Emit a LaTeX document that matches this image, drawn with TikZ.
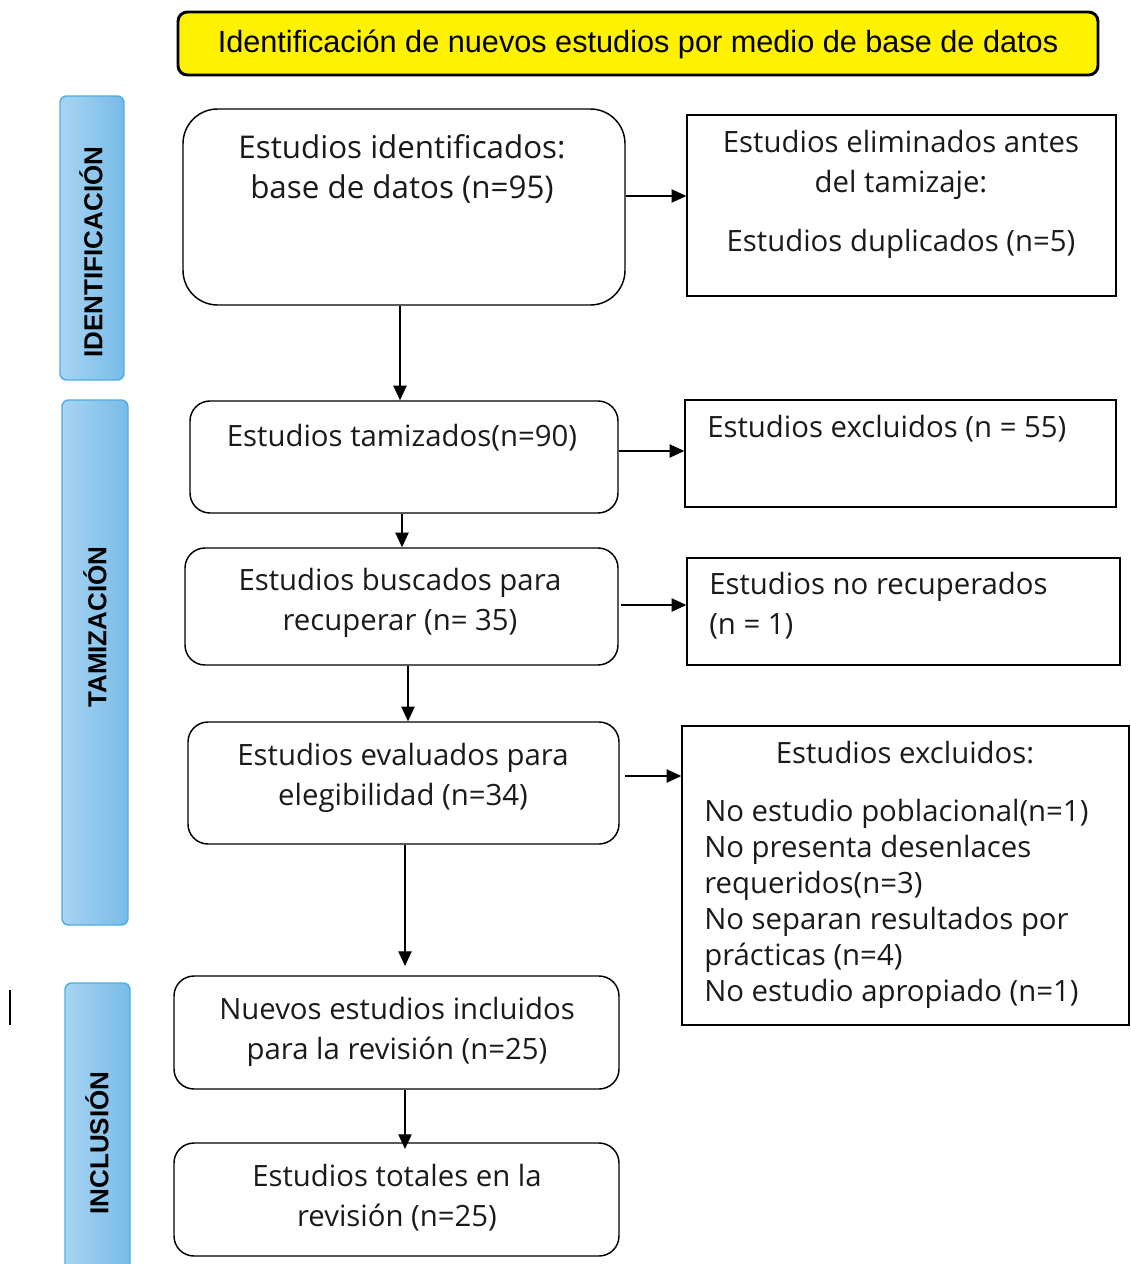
\documentclass[tikz,border=0pt]{standalone}
\usepackage{fontspec}
\setmainfont{Open Sans}
\newfontfamily\sidefont{Liberation Sans}
\usetikzlibrary{arrows.meta,fit}
\definecolor{sidel}{HTML}{A8D4F3}
\definecolor{sider}{HTML}{78BBE8}
\definecolor{sideb}{HTML}{4EAEE0}
\definecolor{txtc}{HTML}{1A1A1A}
\begin{document}
\begin{tikzpicture}[x=0.75pt,y=-0.75pt,
  rbox/.style={draw=black, line width=1.1pt, rounded corners=15pt, inner sep=0pt},
  sbox/.style={draw=black, line width=1.1pt, inner sep=0pt},
  side/.style={draw=sideb, line width=1.1pt, rounded corners=5pt, left color=sidel, right color=sider, inner sep=0pt},
  sidetxt/.style={rotate=90, font=\sidefont\bfseries\fontsize{19.5}{20}\selectfont, text=black, inner sep=0pt},
  txt/.style={font=\fontsize{22}{30}\selectfont, text=txtc, inner sep=0pt, align=center, anchor=north},
  ltxt/.style={font=\fontsize{22}{30}\selectfont, text=txtc, inner sep=0pt, align=left, anchor=north west},
  arr/.style={-{Triangle[length=11pt,width=10pt]}, line width=0.9pt}
]
\useasboundingbox (0,0) rectangle (1131,1264);

% banner
\node[draw=black, line width=2.2pt, rounded corners=7pt, fill=yellow, inner sep=0pt, fit={(178,12) (1098,75)}] (ban) {};
\node[font=\sidefont\fontsize{23}{26}\selectfont, inner sep=0pt] (bant) at (638,44) {Identificación de nuevos estudios por medio de base de datos};

% side bars
\node[side, fit={(60,96) (124,380)}] (s1) {};
\node[sidetxt] (s1t) at (91,252) {IDENTIFICACIÓN};
\node[side, fit={(62,400) (128,925)}] (s2) {};
\node[sidetxt] (s2t) at (95,627) {TAMIZACIÓN};
\node[side, fit={(65,983) (130,1285)}] (s3) {};
\node[sidetxt] (s3t) at (97,1143) {INCLUSIÓN};

\draw[line width=1.1pt] (10,990) -- (10,1025);

% main boxes
\node[rbox, rounded corners=26pt, fit={(183,109) (625,305)}] (A) {};
\node[txt, font=\fontsize{23.5}{30}\selectfont] (At) at (402,134) {Estudios identificados:\\base de datos (n=95)};

\node[sbox, fit={(687,115) (1116,296)}] (B) {};
\node[txt] (Bt) at (901,130) {Estudios eliminados antes\\del tamizaje:\\[14pt]Estudios duplicados (n=5)};

\node[rbox, fit={(190,401) (618,513)}] (C) {};
\node[txt] (Ct) at (402,424) {Estudios tamizados(n=90)};

\node[sbox, fit={(685,400) (1116,507)}] (D) {};
\node[ltxt] (Dt) at (707,415) {Estudios excluidos (n = 55)};

\node[rbox, fit={(185,548) (618,665)}] (E) {};
\node[txt] (Et) at (400,568) {Estudios buscados para\\recuperar (n= 35)};

\node[sbox, fit={(687,558) (1120,665)}] (F) {};
\node[ltxt] (Ft) at (709,572) {Estudios no recuperados\\(n = 1)};

\node[rbox, fit={(188,722) (619,844)}] (G) {};
\node[txt] (Gt) at (403,743) {Estudios evaluados para\\elegibilidad (n=34)};

\node[sbox, fit={(682,726) (1129,1025)}] (H) {};
\node[txt] (Ht) at (905,741) {Estudios excluidos:};
\node[ltxt, font=\fontsize{22}{27}\selectfont] (Hl) at (704,799) {No estudio poblacional(n=1)\\No presenta desenlaces\\requeridos(n=3)\\No separan resultados por\\prácticas (n=4)\\No estudio apropiado (n=1)};

\node[rbox, fit={(174,976) (619,1089)}] (I) {};
\node[txt] (It) at (397,997) {Nuevos estudios incluidos\\para la revisión (n=25)};

\node[rbox, fit={(174,1143) (619,1256)}] (J) {};
\node[txt] (Jt) at (397,1164) {Estudios totales en la\\revisión (n=25)};

% connectors
\coordinate (gi) at (405,966);
\draw[arr] (A.east |- 0,196) -- (B.west |- 0,196);
\draw[arr] (A.south -| 400,0) -- (C.north -| 400,0);
\draw[arr] (C.east |- 0,451) -- (D.west |- 0,451);
\draw[arr] (C.south -| 402,0) -- (E.north -| 402,0);
\draw[arr] ([xshift=2pt]E.east |- 0,605) -- (F.west |- 0,605);
\draw[arr] (E.south -| 408,0) -- (G.north -| 408,0);
\draw[arr] ([xshift=4pt]G.east |- 0,776) -- (H.west |- 0,776);
\draw[arr] (G.south -| 405,0) -- (gi);
\draw[arr] (I.south -| 405,0) -- ([yshift=-5pt]J.north -| 405,0);
\end{tikzpicture}
\end{document}
